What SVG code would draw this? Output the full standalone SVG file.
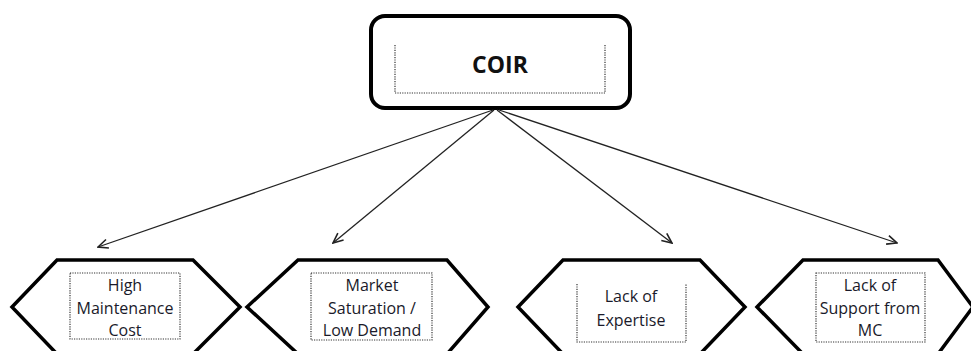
<svg xmlns="http://www.w3.org/2000/svg" width="971" height="351" viewBox="0 0 971 351">
<defs>
<marker id="ah" viewBox="0 0 12 12" refX="11" refY="6" markerWidth="12" markerHeight="12" markerUnits="userSpaceOnUse" orient="auto">
<path d="M1,1.5 L11,6 L1,10.5" fill="none" stroke="#222" stroke-width="1.6"/>
</marker>
</defs>
<style>
.hex{fill:#fff;stroke:#000;stroke-width:3.5;stroke-linejoin:miter}
.dot{fill:none;stroke:#333;stroke-width:1.2;stroke-dasharray:1.2 1.2}
.t{font-family:"Open Sans","Liberation Sans",sans-serif;font-size:16px;fill:#1a1a2a;text-anchor:middle}
.b{font-family:"Open Sans","Liberation Sans",sans-serif;font-size:23px;font-weight:bold;fill:#111;text-anchor:middle}
.c{stroke:#222;stroke-width:1.3;fill:none;marker-end:url(#ah)}
</style>
<rect width="971" height="351" fill="#fff"/>
<g id="coir">
<rect x="371" y="16" width="259" height="92" rx="14" ry="14" fill="#fff" stroke="#000" stroke-width="4"/>
<path class="dot" d="M395,45 V93 H605 V45"/>
<text class="b" x="500" y="73">COIR</text>
</g>
<g id="connectors">
<line class="c" x1="493" y1="110" x2="98" y2="247"/>
<line class="c" x1="494" y1="110" x2="333" y2="243"/>
<line class="c" x1="497" y1="110" x2="672" y2="243"/>
<line class="c" x1="499" y1="110" x2="897" y2="243"/>
</g>
<g id="n1">
<polygon class="hex" points="12,307 57,260 193,260 240,307 193,354 57,354"/>
<rect class="dot" x="70" y="273" width="110" height="66"/>
<text class="t" x="125" y="291">High</text>
<text class="t" x="125" y="314">Maintenance</text>
<text class="t" x="125" y="336">Cost</text>
</g>
<g id="n2">
<polygon class="hex" points="247,307 298,260 447,260 488,307 447,354 298,354"/>
<rect class="dot" x="311" y="273" width="121" height="67"/>
<text class="t" x="372" y="291">Market</text>
<text class="t" x="372" y="314">Saturation /</text>
<text class="t" x="372" y="336">Low Demand</text>
</g>
<g id="n3">
<polygon class="hex" points="518,307 563,260 700,260 745,307 700,354 563,354"/>
<path class="dot" d="M577,284 V342 H686 V284"/>
<text class="t" x="631" y="302">Lack of</text>
<text class="t" x="631" y="326">Expertise</text>
</g>
<g id="n4">
<polygon class="hex" points="757,307 803,260 938,260 973,307 938,354 803,354"/>
<rect class="dot" x="816" y="273" width="109" height="69"/>
<text class="t" x="870" y="291">Lack of</text>
<text class="t" x="870" y="314">Support from</text>
<text class="t" x="870" y="336">MC</text>
</g>
</svg>
